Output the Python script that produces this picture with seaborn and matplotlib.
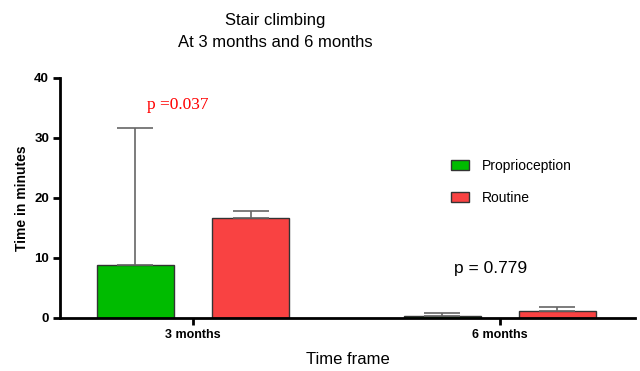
import matplotlib
matplotlib.use("Agg")
import matplotlib.pyplot as plt
import seaborn as sns
import pandas as pd
import numpy as np

# Mean time and upper error (SD) per group
timeframes = ["3 months", "6 months"]
groups = ["Proprioception", "Routine"]
proprio_mean = [8.8, 0.35]
routine_mean = [16.7, 1.15]
proprio_err = [22.9, 0.45]
routine_err = [1.2, 0.65]
p_values = ["p =0.037", "p = 0.779"]

colors = {"Proprioception": "#00BB00", "Routine": "#F94242"}

df = pd.DataFrame({
    "Time frame": timeframes * 2,
    "group": [groups[0]] * 2 + [groups[1]] * 2,
    "mean": proprio_mean + routine_mean,
    "err": proprio_err + routine_err,
})

sns.set_style("white")
plt.rcParams["font.family"] = ["Liberation Sans", "DejaVu Sans"]
plt.rcParams["text.color"] = "black"
plt.rcParams["axes.labelcolor"] = "black"
plt.rcParams["xtick.color"] = "black"
plt.rcParams["ytick.color"] = "black"

fig = plt.figure(figsize=(6.4, 3.71), dpi=100)
ax = fig.add_axes([0.094, 0.143, 0.898, 0.647])

sns.barplot(data=df, x="Time frame", y="mean", hue="group", order=timeframes,
            hue_order=groups, palette=colors, saturation=1, errorbar=None,
            width=0.75, gap=0.33, edgecolor="#333333", linewidth=1.0, ax=ax,
            legend=True)

# upper-only error bars at each bar centre
for container, g in zip(ax.containers, groups):
    errs = df[df["group"] == g].set_index("Time frame").loc[timeframes, "err"].values
    for patch, e in zip(container.patches, errs):
        xc = patch.get_x() + patch.get_width() / 2
        h = patch.get_height()
        ax.errorbar(xc, h, yerr=[[0], [e]], fmt="none", ecolor="#666666",
                    elinewidth=1.2, capsize=13, capthick=1.2, zorder=1)

ax.set_xlim(-0.433, 1.44)
ax.set_ylim(0, 40)
ax.set_yticks([0, 10, 20, 30, 40])
ax.set_yticklabels(["0", "10", "20", "30", "40"], fontweight="bold", fontsize=9.5)
ax.set_xticks([0, 1])
ax.set_xticklabels(timeframes, fontweight="bold", fontsize=9)
ax.tick_params(axis="both", direction="out", length=5, width=2, color="black",
               left=True, bottom=True, pad=3)

for side in ["top", "right"]:
    ax.spines[side].set_visible(False)
for side in ["left", "bottom"]:
    ax.spines[side].set_linewidth(2)
    ax.spines[side].set_color("black")

ax.set_ylabel("Time in minutes", fontweight="bold", fontsize=10, labelpad=4)
ax.set_xlabel("Time frame", fontsize=12, labelpad=8)

fig.text(0.43, 0.965, "Stair climbing\nAt 3 months and 6 months", ha="center",
         va="top", fontsize=12, linespacing=1.6)

ax.text(-0.05, 35.5, p_values[0], color="red", fontsize=12.5, ha="center",
        va="center", family=["Liberation Serif", "DejaVu Serif"])
ax.text(0.97, 8.3, p_values[1], color="black", fontsize=12.5, ha="center",
        va="center")

ax.legend(loc="upper left", bbox_to_anchor=(0.658, 0.715), frameon=False,
          fontsize=10, handlelength=1.3, handleheight=0.8, labelspacing=1.3,
          handletextpad=0.9)

fig.savefig("out.png", dpi=100)
